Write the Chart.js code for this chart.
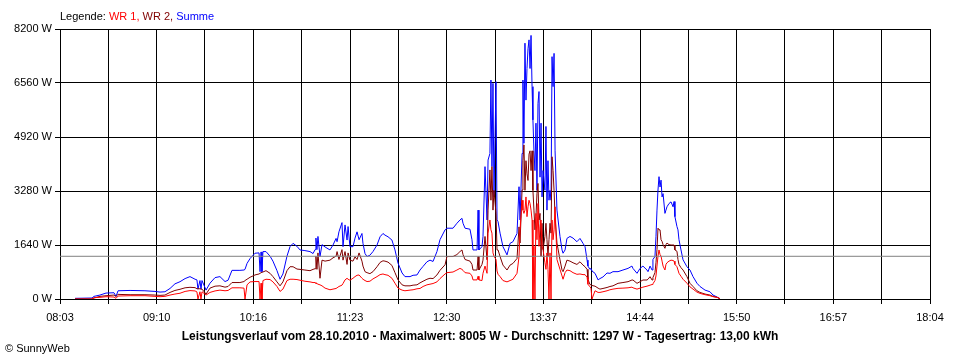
<!DOCTYPE html>
<html><head><meta charset="utf-8">
<script src="https://cdn.jsdelivr.net/npm/chart.js@4/dist/chart.umd.min.js"></script>
<style>
  body { margin:0; background:#fff; }
  #wrap { position:relative; width:960px; height:360px; font-family:"Liberation Sans", Arial, sans-serif; font-size:11px; color:#000; }
  #wrap canvas { position:absolute; left:0; top:0; }
  .txt { position:absolute; white-space:nowrap; line-height:13px; }
  #leg { left:60px; top:10px; }
  #ttl { left:0; width:960px; text-align:center; top:330px; font-weight:bold; font-size:12px; }
  #cpy { left:5px; top:342px; }
</style></head>
<body>
<div id="wrap">
  <canvas id="c" width="960" height="360"></canvas>
  <div class="txt" id="leg">Legende: <span style="color:#ff0000">WR 1,</span> <span style="color:#800000">WR 2,</span> <span style="color:#0000ff">Summe</span></div>
  <div class="txt" id="ttl">Leistungsverlauf vom 28.10.2010 - Maximalwert: 8005 W - Durchschnitt: 1297 W - Tagesertrag: 13,00 kWh</div>
  <div class="txt" id="cpy">© SunnyWeb</div>
</div>
<script>
/* SunnyWeb day curve 28.10.2010 (W), time in minutes of day */
const tickLabels = ['08:03','09:10','10:16','11:23','12:30','13:37','14:44','15:50','16:57','18:04'];
const xMin = 483, xMax = 1084, gridDivs = 18;
const yMax = 8200, yStep = 1640;
const average = 1297;

const times = [493.4,505.1,506.5,510.6,514.8,520.3,521.7,523.1,531.4,541.7,548.6,552.1,555.5,559.0,562.4,565.9,569.4,572.8,576.3,577.6,
  578.3,579.7,580.4,581.1,583.9,586.6,590.1,593.5,597.0,599.1,601.8,607.3,610.1,610.8,612.2,614.3,617.7,620.5,621.2,621.9,
  622.5,623.2,625.3,628.1,630.1,632.9,635.0,637.0,639.8,641.9,644.0,646.7,648.8,652.2,655.7,657.8,659.2,659.8,660.5,661.2,
  662.6,664.0,666.1,669.5,671.6,673.7,674.4,675.7,677.8,678.5,679.9,681.3,682.0,683.3,685.4,686.8,688.2,689.6,691.6,692.3,
  693.7,695.1,697.1,699.2,702.0,704.1,706.1,707.5,709.6,712.3,714.4,716.5,719.3,721.3,724.8,726.9,729.6,731.7,733.8,736.5,
  738.6,740.7,743.4,745.5,749.0,750.3,754.5,757.2,759.3,760.7,761.4,762.8,766.2,767.6,768.3,771.1,771.8,772.4,774.5,775.2,
  776.6,778.0,778.7,780.0,780.7,781.4,782.1,782.8,784.2,784.9,785.6,787.0,789.0,791.8,793.9,795.9,798.7,800.1,800.8,802.2,
  802.8,803.5,804.2,804.9,805.6,806.3,807.0,807.7,808.4,809.1,809.7,810.4,811.1,811.8,812.5,813.2,813.9,814.6,815.3,816.0,
  816.7,818.0,818.7,819.4,820.1,820.8,821.5,822.2,822.9,823.6,824.3,825.0,826.3,828.4,829.8,830.5,831.9,833.2,835.3,837.4,
  840.1,842.2,844.3,845.7,847.1,847.7,849.1,849.8,850.5,852.6,854.7,856.0,858.1,860.9,862.9,865.0,868.5,871.9,875.4,878.1,
  878.8,881.6,883.7,885.7,888.5,889.2,890.6,892.0,892.6,894.0,894.7,895.4,896.1,896.8,897.5,898.2,898.9,899.6,900.9,901.6,
  902.3,903.7,905.1,906.5,907.2,907.8,909.2,909.9,910.6,912.0,913.4,916.1,918.2,920.3,923.0,925.1,928.6,932.0,934.1,936.9,
  938.9];

const wr1 = [0,0,40,50,70,60,20,90,100,100,80,70,80,120,150,175,230,255,245,215,
  0,220,0,220,120,200,245,270,250,260,340,340,330,0,430,520,530,530,0,480,
  0,560,600,590,520,380,230,300,560,600,600,590,570,540,520,500,500,470,470,450,
  430,400,330,280,300,320,340,380,420,470,580,630,600,570,630,680,720,730,630,600,
  560,530,540,610,680,740,760,740,720,630,480,330,270,250,270,280,310,320,380,430,
  450,470,520,620,760,800,820,880,930,900,870,800,780,700,580,580,690,580,560,780,
  1000,780,2000,2400,2100,2000,1400,1300,1200,850,750,680,560,520,560,600,780,1290,2100,3000,
  2700,2600,2700,3100,2500,2800,3000,2900,2700,2400,0,1600,0,2600,1800,2900,1600,2200,2400,1600,
  1500,1100,900,1400,900,0,1400,0,2400,1800,2100,2800,1200,900,700,600,800,880,860,800,
  750,760,740,740,660,450,370,330,0,250,200,200,220,250,280,300,324,330,340,360,
  340,300,330,360,390,400,420,440,460,560,700,1000,1300,1490,1350,1300,1150,1000,880,1050,
  1100,1150,1180,1170,1150,1050,980,880,780,690,600,480,370,300,210,170,130,100,70,50,
  10];

const wr2 = [0,0,30,80,100,120,80,140,130,130,120,110,120,200,260,295,340,355,345,310,
  310,310,300,300,150,330,390,400,360,380,500,500,530,560,600,660,730,760,780,800,
  800,820,860,780,680,520,400,520,860,980,980,910,900,880,860,900,920,1300,900,1400,
  630,1180,1150,1180,1250,1300,1440,1200,1500,1180,1440,1050,1400,1180,1150,1280,1200,1400,1150,1000,
  830,800,770,830,980,1110,1160,1150,1120,1020,800,580,430,400,400,420,430,490,540,600,
  630,620,730,870,1040,1290,1290,1350,1440,1490,1350,1200,1150,1050,880,880,1290,880,1050,1180,
  1900,1190,2700,3920,3000,4020,2700,3300,2600,1490,1490,1290,1030,880,1030,1080,1230,2190,1700,3310,
  4200,4680,3300,4200,3800,3600,4400,4500,3900,4500,3300,2700,2100,2500,3200,3510,2400,2600,1300,2300,
  1500,1900,2300,1800,1300,1800,2300,2000,4320,3900,3300,2500,1700,1190,880,830,1000,1180,1150,1100,
  1050,1130,1030,980,900,600,440,430,410,390,330,300,320,350,380,400,476,500,526,577,
  577,476,526,577,577,600,678,577,650,800,1100,1500,2150,2100,2100,1800,1750,1650,1540,1650,
  1700,1650,1640,1640,1640,1490,1450,1200,1050,950,880,680,476,380,250,200,150,120,80,50,
  10];

const summe = [20,30,80,120,180,190,80,250,260,250,230,210,220,320,460,525,620,680,600,580,
  300,560,300,560,270,480,650,680,530,570,870,870,880,900,1080,1230,1390,1400,830,1430,
  830,1440,1440,1300,1150,860,600,760,1300,1590,1690,1600,1490,1470,1440,1380,1500,1850,1500,1900,
  1290,1650,1580,1490,1640,1840,1740,2040,2320,1590,2250,1790,2200,1590,1590,1850,2040,1800,1990,1690,
  1380,1290,1330,1440,1640,1890,1990,1940,1890,1790,1490,1090,790,680,680,720,730,880,990,1130,
  1180,1140,1440,1800,2100,2150,2150,2300,2400,2450,2300,2150,2120,1800,1490,1490,2700,1490,1590,1890,
  4020,2400,4220,4420,6650,4020,6550,3100,6600,2400,2350,2000,1590,1340,1690,1740,1990,3410,2400,4420,
  6650,4730,7770,6040,7000,7600,7870,7000,8005,6450,5440,4500,3900,5340,3300,5940,6300,3700,5340,3100,
  3900,3300,5240,2700,4200,3000,3300,3000,7360,6450,7460,4500,2700,1900,1490,1390,1490,1840,1900,1850,
  1740,1840,1690,1590,1180,1000,900,930,850,780,580,620,670,790,780,830,830,880,930,1000,
  930,780,930,1000,880,830,1000,880,1200,1290,1890,2700,3310,3715,3400,3610,3100,3200,2600,2700,
  2800,2900,2950,2800,2960,2500,2200,2100,1800,1490,1190,980,880,680,480,380,270,220,120,60,
  10];

const pts = arr => times.map((t, i) => ({ x: t, y: arr[i] }));
const gridTicks = [];
for (let k = 0; k <= gridDivs; k++) gridTicks.push({ value: xMin + k * (xMax - xMin) / gridDivs });

const line = (label, data, color) => ({ label, data, borderColor: color, backgroundColor: color,
  borderWidth: 1, pointRadius: 0, tension: 0, fill: false });

new Chart(document.getElementById('c'), {
  type: 'line',
  data: { datasets: [
    line('Durchschnitt', [{ x: xMin, y: average }, { x: xMax, y: average }], '#808080'),
    line('WR 1', pts(wr1), '#ff0000'),
    line('WR 2', pts(wr2), '#800000'),
    line('Summe', pts(summe), '#0000ff')
  ] },
  options: {
    responsive: false, animation: false, parsing: true,
    layout: { padding: { left: 0, top: 29, right: 30, bottom: 0 } },
    plugins: { legend: { display: false }, tooltip: { enabled: false }, title: { display: false } },
    scales: {
      x: { type: 'linear', min: xMin, max: xMax,
        afterBuildTicks: s => { s.ticks = gridTicks.map(t => ({ value: t.value })); },
        afterFit: s => { s.height = 61; },
        grid: { color: '#000', lineWidth: 1, tickLength: 5, drawTicks: true },
        border: { color: '#000', width: 1 },
        ticks: { autoSkip: false, maxRotation: 0, padding: 7, color: '#000',
          font: { family: 'Liberation Sans', size: 11 },
          callback: (v, i) => i % 2 === 0 ? tickLabels[i / 2] : '' } },
      y: { min: 0, max: yMax,
        afterFit: s => { s.width = 60; },
        grid: { color: '#000', lineWidth: 1, tickLength: 5, drawTicks: true },
        border: { color: '#000', width: 1 },
        ticks: { stepSize: yStep, padding: 3, color: '#000',
          font: { family: 'Liberation Sans', size: 11 },
          callback: v => v + ' W' } }
    }
  }
});
</script>
</body></html>
